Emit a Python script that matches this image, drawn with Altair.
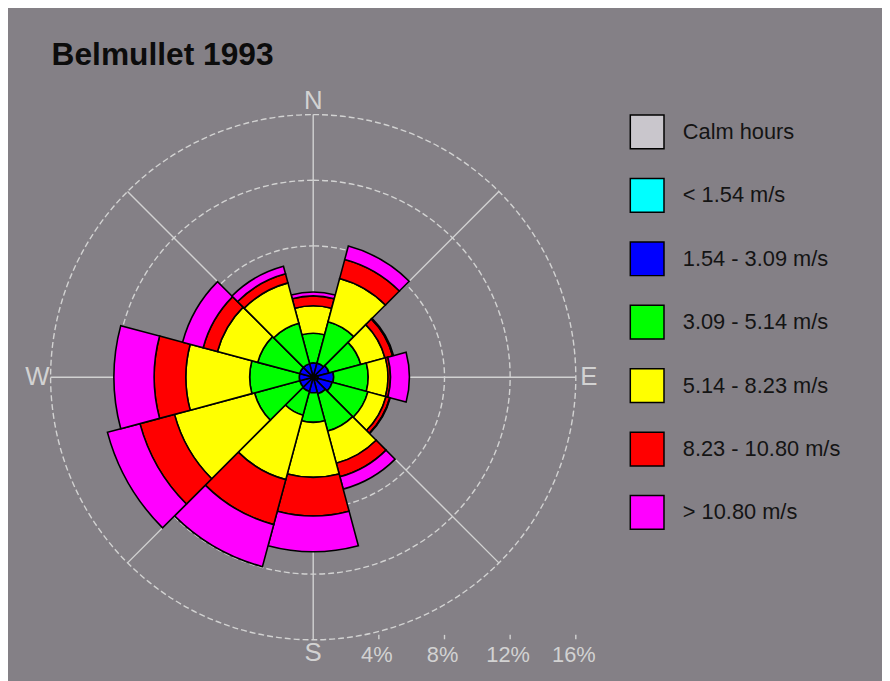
import altair as alt
import numpy as np
import pandas as pd

# ---------------- data ----------------
title_text = "Belmullet 1993"
directions = [0, 30, 60, 90, 120, 150, 180, 210, 240, 270, 300, 330]

calm_label = "Calm hours"
band_labels = ["< 1.54 m/s", "1.54 - 3.09 m/s", "3.09 - 5.14 m/s",
               "5.14 - 8.23 m/s", "8.23 - 10.80 m/s", "> 10.80 m/s"]

# frequency (% of hours) per direction (N, 30, 60 ... 330) and speed class
freq_lt_154   = [0.15, 0.15, 0.20, 0.30, 0.30, 0.20, 0.15, 0.15, 0.15, 0.15, 0.15, 0.15]
freq_154_309  = [0.72, 0.75, 0.80, 0.95, 0.90, 0.85, 0.80, 0.75, 0.70, 0.70, 0.70, 0.70]
freq_309_514  = [1.81, 2.60, 2.00, 2.10, 2.25, 2.35, 1.80, 1.50, 2.85, 3.02, 2.65, 2.55]
freq_514_823  = [1.67, 2.72, 1.53, 1.21, 1.14, 2.03, 3.35, 4.06, 5.05, 3.89, 2.54, 2.55]
freq_823_1080 = [0.60, 1.21, 0.48, 0.15, 0.24, 0.85, 2.35, 2.84, 2.18, 1.93, 0.90, 0.57]
freq_gt_1080  = [0.24, 0.84, 0.06, 1.15, 0.03, 0.78, 2.18, 2.65, 2.05, 2.45, 1.30, 0.48]

ring_values = [4, 8, 12, 16]
ring_labels = ["4%", "8%", "12%", "16%"]
spoke_angles = [0, 45, 90, 135, 180, 225, 270, 315]
compass_labels = ["N", "E", "S", "W"]
compass_angles = [0, 90, 180, 270]

# ---------------- styling / layout ----------------
BG = "#848086"
GRID = "#d2d2d2"
colors = ["#c9c6cc", "#00ffff", "#0000ff", "#00ff00", "#ffff00", "#ff0000", "#ff00ff"]
legend_domain = [calm_label] + band_labels
W, H = 882, 673
CX, CY = 308, 369.5
R = 265
RMAX = 16
HALF = 15  # half sector width in degrees
FONT = "Liberation Sans"

# ---------------- tables ----------------
series = [freq_lt_154, freq_154_309, freq_309_514, freq_514_823, freq_823_1080, freq_gt_1080]
rows = []
for i, d in enumerate(directions):
    inner = 0.0
    for band, vals in zip(band_labels, series):
        outer = inner + vals[i]
        rows.append(dict(direction=d, band=band, t1=d - HALF, t2=d + HALF,
                         r1=inner, r2=outer, freq=vals[i]))
        inner = outer
sect_df = pd.DataFrame(rows)

spoke_df = pd.DataFrame({
    "angle": spoke_angles,
    "x0": 0.0, "y0": 0.0,
    "x1": [RMAX * np.sin(np.radians(a)) for a in spoke_angles],
    "y1": [RMAX * np.cos(np.radians(a)) for a in spoke_angles],
})
ring_df = pd.DataFrame({"ring": ring_values, "label": ring_labels,
                        "t1": 0.0, "t2": 360.0})
LAB_R = 16.8
compass_df = pd.DataFrame({
    "label": compass_labels,
    "x": [LAB_R * np.sin(np.radians(a)) for a in compass_angles],
    "y": [LAB_R * np.cos(np.radians(a)) for a in compass_angles],
})

xs = alt.Scale(domain=[-RMAX, RMAX], range=[CX - R, CX + R], nice=False, zero=False)
ys = alt.Scale(domain=[-RMAX, RMAX], range=[CY + R, CY - R], nice=False, zero=False)
rs = alt.Scale(type="linear", domain=[0, RMAX], range=[0, R], nice=False, zero=True)
ts = alt.Scale(type="linear", domain=[0, 360], range=[0, 2 * np.pi], nice=False, zero=False)

cx_enc = alt.XDatum(0, type="quantitative", scale=xs, axis=None)
cy_enc = alt.YDatum(0, type="quantitative", scale=ys, axis=None)

spokes = alt.Chart(spoke_df).mark_rule(color=GRID, strokeWidth=1.4).encode(
    x=alt.X("x0:Q", scale=xs, axis=None),
    y=alt.Y("y0:Q", scale=ys, axis=None),
    x2="x1:Q",
    y2="y1:Q",
)

rings = alt.Chart(ring_df).mark_arc(
    fill="transparent", stroke=GRID, strokeWidth=1.4, strokeDash=[6, 3]
).encode(
    x=cx_enc, y=cy_enc,
    theta=alt.Theta("t1:Q", scale=ts, stack=False),
    theta2="t2:Q",
    radius=alt.Radius("ring:Q", scale=rs),
)

sectors = alt.Chart(sect_df).mark_arc(stroke="black", strokeWidth=1.6).encode(
    x=cx_enc, y=cy_enc,
    theta=alt.Theta("t1:Q", scale=ts, stack=False),
    theta2="t2:Q",
    radius=alt.Radius("r2:Q", scale=rs),
    radius2="r1:Q",
    fill=alt.Fill(
        "band:N",
        scale=alt.Scale(domain=legend_domain, range=colors),
        legend=alt.Legend(
            title=None, orient="none", legendX=627, legendY=104,
            symbolType="square", symbolSize=1156,
            symbolStrokeColor="black", symbolStrokeWidth=1.5, symbolOpacity=1,
            labelFont=FONT, labelFontSize=22, labelColor="#141414",
            labelOffset=18, labelLimit=300, rowPadding=24, padding=0,
        ),
    ),
    tooltip=["direction:Q", "band:N", "freq:Q"],
)

ticks = alt.Chart(ring_df).mark_rule(color=GRID, strokeWidth=1.4).encode(
    x=alt.X("ring:Q", scale=xs, axis=None),
    y=alt.YDatum(-15.7, type="quantitative", scale=ys, axis=None),
    y2=alt.Y2Datum(-15.97),
)

pct_text = alt.Chart(ring_df).mark_text(
    font=FONT, fontSize=22, color=GRID, baseline="middle", align="center", dx=-2
).encode(
    x=alt.X("ring:Q", scale=xs, axis=None),
    y=alt.YDatum(-16.95, type="quantitative", scale=ys, axis=None),
    text="label:N",
)

compass_text = alt.Chart(compass_df).mark_text(
    font=FONT, fontSize=26, color=GRID, baseline="middle", align="center"
).encode(
    x=alt.X("x:Q", scale=xs, axis=None),
    y=alt.Y("y:Q", scale=ys, axis=None),
    text="label:N",
)

title = alt.Chart(pd.DataFrame({"t": [title_text]})).mark_text(
    font=FONT, fontSize=32, fontWeight="bold", color="#0c0c0c",
    align="left", baseline="alphabetic"
).encode(
    x=alt.value(44), y=alt.value(54), text="t:N"
)

chart = alt.layer(spokes, rings, sectors, ticks, pct_text, compass_text, title).properties(
    width=W, height=H, background=BG, padding=0,
    autosize=alt.AutoSizeParams(type="none"),
).configure_view(strokeWidth=0)

chart.save("out.html", embed_options={"renderer": "svg", "actions": False})
